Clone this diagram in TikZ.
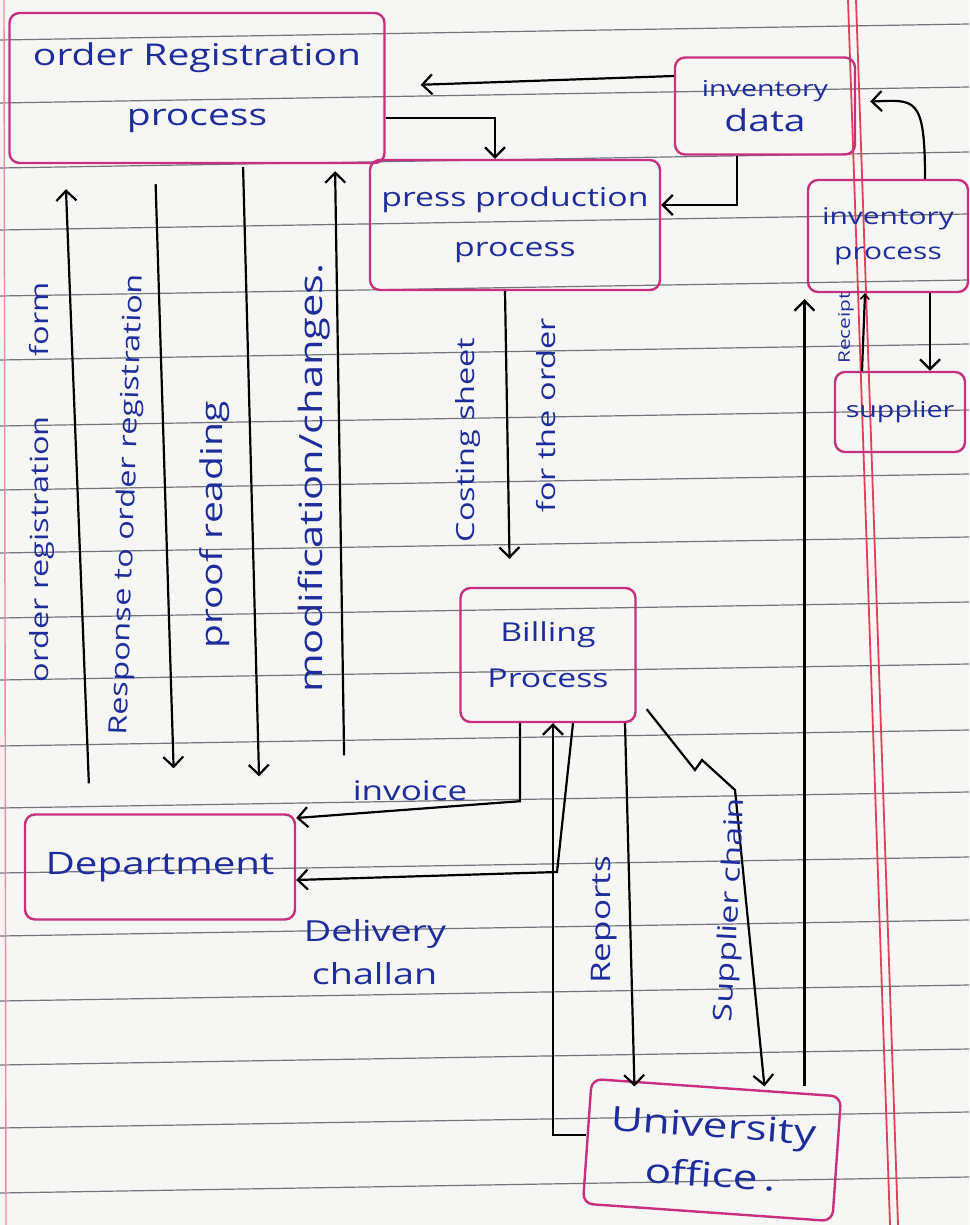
\documentclass[tikz,border=0pt]{standalone}
\usepackage{fontspec}
\setmainfont{Open Sans}[FakeStretch=1.3]
\usetikzlibrary{arrows.meta,calc}
\definecolor{ink}{HTML}{1F2D9C}
\definecolor{boxpink}{HTML}{C8307F}
\definecolor{paper}{HTML}{F6F6F4}
\definecolor{rule}{HTML}{70767C}
\definecolor{margin}{HTML}{E0405A}
\tikzset{
  box/.style={draw=boxpink, line width=2.4pt, rounded corners=10pt, text=ink, align=center, inner sep=0pt},
  lbl/.style={text=ink, inner sep=1pt},
  arr/.style={draw=black, line width=2.2pt, -{Straight Barb[length=10pt,width=20pt,line width=2.2pt]}},
  fsz/.style={font=\fontsize{#1}{#1}\selectfont}
}
\begin{document}
\begin{tikzpicture}[x=1pt,y=-1pt]
% paper
\fill[paper] (0,0) rectangle (969,1225);
\useasboundingbox (0,0) rectangle (969,1225);
% ruled lines
\foreach \yy in {32,95,160,222,288,352,418,482,545,610,672,738,800,865,928,993,1057,1120,1185}
  \draw[rule, line width=1.2pt] (0,\yy+8) -- (969,\yy-8);
% margins
\draw[margin, line width=1.8pt] (848,0) -- (890,1225);
\draw[margin, line width=1.8pt] (856,0) -- (898,1225);
\draw[margin!60, line width=1.4pt] (4,0) -- (6,1225);

% boxes
\node[box, fsz=30, minimum width=375pt, minimum height=150pt] (ordreg) at (197,88) {order Registration\\[30pt]process};
\node[box, fsz=22, minimum width=180pt, minimum height=97pt] (invdata) at (765,106) {inventory\\[6pt]{\fontsize{30}{30}\selectfont data}};
\node[box, fsz=26, minimum width=290pt, minimum height=130pt] (press) at (515,225) {press production\\[24pt]process};
\node[box, fsz=23, minimum width=160pt, minimum height=112pt] (invproc) at (888,236) {inventory\\[12pt]process};
\node[box, fsz=22, minimum width=130pt, minimum height=80pt] (supplier) at (900,412) {supplier};
\node[box, fsz=26, minimum width=175pt, minimum height=134pt] (billing) at (548,655) {Billing\\[20pt]Process};
\node[box, fsz=31, minimum width=270pt, minimum height=105pt] (dept) at (160,867) {Department};
\node[box, fsz=34, minimum width=250pt, minimum height=125pt, rotate=-4] (univ) at (712,1150) {University\\[14pt]office\,.};

% top connectors
\draw[arr, shorten >=35pt] (invdata.west |- 0,76) -- (ordreg.east |- 0,86);
\draw[arr] (ordreg.east |- 0,118) -| ([xshift=-20pt]press.north);
\draw[arr] ([xshift=-28pt]invdata.south) |- (press.east |- 0,205);
\draw[arr, shorten >=14pt] ([xshift=37pt]invproc.north) .. controls (925,95) and (915,100) .. (invdata.east |- 0,102);
\draw[arr] ([xshift=42pt]invproc.south) -- ([xshift=30pt]supplier.north);
\draw[arr, -{Straight Barb[length=5pt,width=9pt,line width=1.6pt]}] ([xshift=-38pt]supplier.north) -- ([xshift=-23pt]invproc.south);
\node[lbl, fsz=16, rotate=90] (receipt) at (846,328) {Receipt};
\draw[arr, shorten >=6pt] ([xshift=88pt]univ.north) -- ([xshift=88pt]univ.north |- invproc.south);

% order registration <-> department
\draw[arr, shorten <=30pt, shorten >=25pt] (90,0 |- dept.north) -- (65,0 |- ordreg.south);
\draw[arr, shorten <=20pt, shorten >=45pt] (155,0 |- ordreg.south) -- (175,0 |- dept.north);
\draw[arr, shorten <=3pt, shorten >=37pt] (243,0 |- ordreg.south) -- (260,0 |- dept.north);
\draw[arr, shorten <=58pt, shorten >=7pt] (345,0 |- dept.north) -- (335,0 |- ordreg.south);
\node[lbl, fsz=25, rotate=90] (lform) at (42,482) {order registration\hspace{60pt}form};
\node[lbl, fsz=25, rotate=88] (lresp) at (128,505) {Response to order registration};
\node[lbl, fsz=30, rotate=90] (lproof) at (215,525) {proof reading};
\node[lbl, fsz=32, rotate=90] (lmod) at (314,478) {modification/changes.};

% press -> billing
\draw[arr, shorten >=28pt] ([xshift=-10pt]press.south) -- ([xshift=-38pt]billing.north);
\node[lbl, fsz=25, rotate=90] (lcost) at (468,440) {Costing sheet};
\node[lbl, fsz=25, rotate=90] (lfor) at (546,415) {for the order};

% billing -> department
\draw[arr] ([xshift=-28pt]billing.south) -- ++(0,78) -- (dept.east |- 0,818);
\node[lbl, fsz=27] (linv) at (410,791) {invoice};
\draw[arr] ([xshift=25pt]billing.south) -- (557,872) -- (dept.east |- 0,880);
\node[lbl, fsz=29, align=left] (ldel) at (375,952) {Delivery\\[14pt]\hspace{8pt}challan};

% university office <-> billing
\draw[arr] (univ.west |- 0,1135) -| ([xshift=5pt]billing.south);
\draw[arr] ([xshift=77pt]billing.south) -- ([xshift=-82pt]univ.north);
\node[lbl, fsz=27, rotate=90] (lrep) at (604,920) {Reports};
\draw[arr] ([xshift=10pt,yshift=14pt]billing.south east) -- (695,770) -- (702,760) -- (735,790) -- ([xshift=48pt]univ.north);
\node[lbl, fsz=26, rotate=87] (lsup) at (731,910) {Supplier chain};
\end{tikzpicture}
\end{document}
